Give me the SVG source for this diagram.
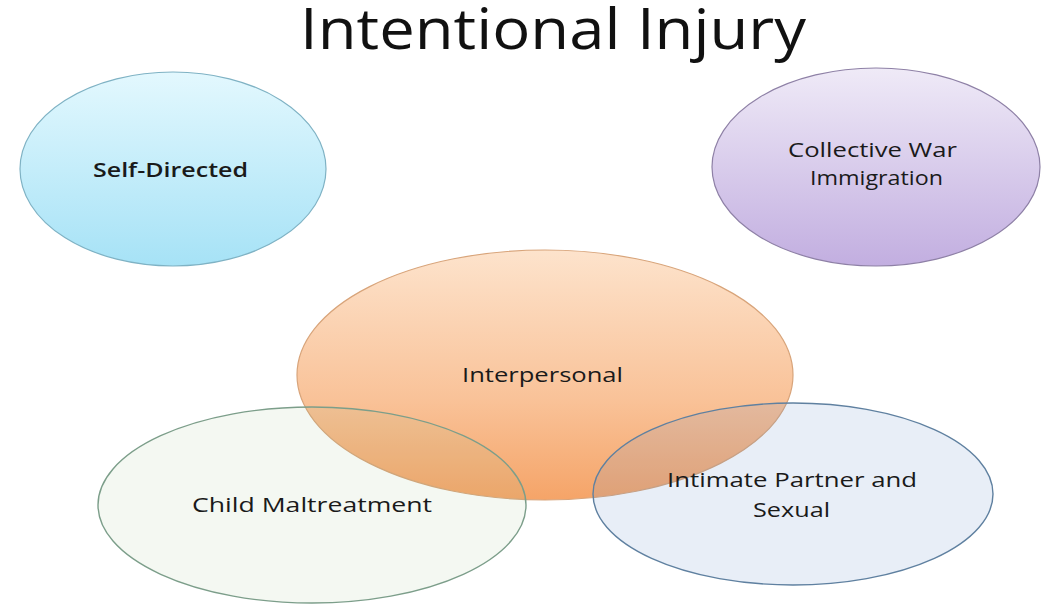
<svg xmlns="http://www.w3.org/2000/svg" width="1050" height="610" viewBox="0 0 1050 610">
<style>
.lbl{font-family:"Open Sans","Liberation Sans",sans-serif;font-size:20px;fill:#1a1a1a;text-anchor:middle}
.title{font-family:"Open Sans","Liberation Sans",sans-serif;font-size:56px;fill:#111;text-anchor:middle}
</style>
<defs>
<linearGradient id="gSelf" x1="0" y1="0" x2="0" y2="1"><stop offset="0" stop-color="#e3f8fe"/><stop offset="1" stop-color="#a6e2f6"/></linearGradient>
<linearGradient id="gColl" x1="0" y1="0" x2="0" y2="1"><stop offset="0" stop-color="#efeaf7"/><stop offset="1" stop-color="#c2aee0"/></linearGradient>
<linearGradient id="gInter" x1="0" y1="0" x2="0" y2="1"><stop offset="0" stop-color="#fde3cc"/><stop offset="0.6" stop-color="#f9c298"/><stop offset="1" stop-color="#f5a468"/></linearGradient>
</defs>
<rect width="1050" height="610" fill="#ffffff"/>
<text class="title" x="553" y="49" textLength="506" lengthAdjust="spacingAndGlyphs">Intentional Injury</text>
<g id="self-directed">
<ellipse cx="173" cy="169" rx="153" ry="97" fill="url(#gSelf)" stroke="#7fb2c4" stroke-width="1.2"/>
<text class="lbl" x="170.5" y="177" font-weight="600" textLength="155" lengthAdjust="spacingAndGlyphs">Self-Directed</text>
</g>
<g id="collective">
<ellipse cx="876" cy="167" rx="164" ry="99" fill="url(#gColl)" stroke="#8e80a6" stroke-width="1.2"/>
<text class="lbl" x="872.5" y="157" textLength="169" lengthAdjust="spacingAndGlyphs">Collective War</text>
<text class="lbl" x="876.5" y="185" textLength="133" lengthAdjust="spacingAndGlyphs">Immigration</text>
</g>
<g id="interpersonal">
<ellipse cx="545" cy="375" rx="248" ry="125" fill="url(#gInter)" stroke="#d8a47a" stroke-width="1.2"/>
<text class="lbl" x="542.5" y="382" textLength="161" lengthAdjust="spacingAndGlyphs">Interpersonal</text>
</g>
<g id="child-maltreatment">
<ellipse cx="312" cy="505" rx="214" ry="98" fill="#91b97d" fill-opacity="0.1" stroke="#7c9e8a" stroke-width="1.4"/>
<text class="lbl" x="312" y="512" textLength="240" lengthAdjust="spacingAndGlyphs">Child Maltreatment</text>
</g>
<g id="intimate-partner">
<ellipse cx="793" cy="494" rx="200" ry="91" fill="#668eca" fill-opacity="0.15" stroke="#5f80a0" stroke-width="1.4"/>
<text class="lbl" x="792" y="487" textLength="250" lengthAdjust="spacingAndGlyphs">Intimate Partner and</text>
<text class="lbl" x="791.5" y="517" textLength="77" lengthAdjust="spacingAndGlyphs">Sexual</text>
</g>
<g id="connectors"></g>
</svg>
